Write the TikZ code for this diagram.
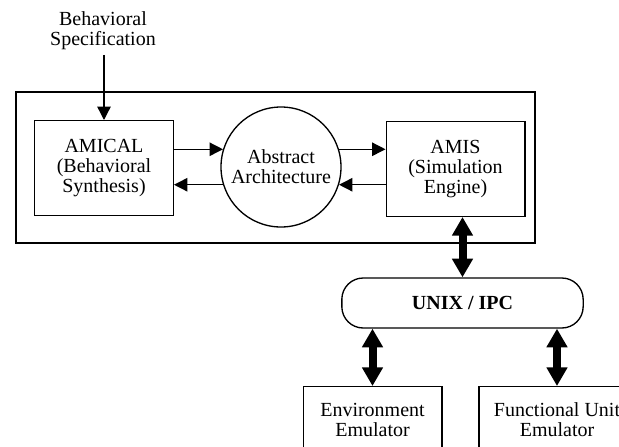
\documentclass[tikz,border=0pt]{standalone}
\usepackage{fontspec}
\setmainfont{Liberation Serif}
\usetikzlibrary{arrows.meta}

\begin{document}
\begin{tikzpicture}[x=0.75pt,y=-0.75pt,
        txt/.style={align=center,font=\fontsize{15pt}{15pt}\selectfont},
        box/.style={txt,draw,line width=1pt,minimum width=104pt,minimum height=71pt},
        arr/.style={-{Triangle[width=10pt,length=10pt]},line width=1pt},
        bigarr/.style={{Triangle[width=15pt,length=14pt]}-{Triangle[width=15pt,length=14pt]},line width=6pt}]
                \clip (0,0) rectangle (619,447);
                \draw[line width=1.4pt] (16,92) rectangle (535,243);
                \node[txt] (spec) at (103,31) {Behavioral\\Specification};
                \node[box] (amical) at (104,168) {AMICAL\\(Behavioral\\Synthesis)};
                \node[txt,draw,circle,line width=1pt,minimum size=90pt,inner sep=0pt] (abstract) at (281,167) {Abstract\\Architecture};
                \node[box] (amis) at (455.5,169) {AMIS\\(Simulation\\Engine)};
                \node[txt,draw,line width=1pt,rounded corners=16pt,minimum width=181pt,minimum height=37.5pt,font=\fontsize{15pt}{15pt}\selectfont\bfseries] (unix) at (462.5,303) {UNIX / IPC};
                \node[box,minimum height=50pt] (env) at (372.5,420) {Environment\\Emulator};
                \node[box,minimum width=117pt,minimum height=50pt] (func) at (557,420) {Functional Unit\\Emulator};
                \draw[arr] (spec.south -| amical.north) -- (amical.north);
                \draw[arr] (amical.east |- abstract.163) -- (abstract.163);
                \draw[arr] (abstract.197) -- (amical.east |- abstract.197);
                \draw[arr] (abstract.17) -- (amis.west |- abstract.17);
                \draw[arr] (amis.west |- abstract.-17) -- (abstract.-17);
                \draw[bigarr] (unix.north |- amis.south) -- (unix.north);
                \draw[bigarr] (env.north |- unix.south) -- (env.north);
                \draw[bigarr] (func.north |- unix.south) -- (func.north);
            \end{tikzpicture}
\end{document}
